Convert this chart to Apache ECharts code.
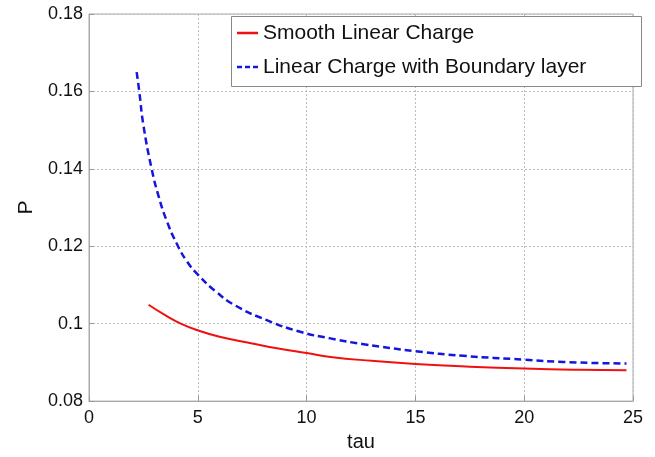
<!DOCTYPE html>
<html>
<head>
<meta charset="utf-8">
<script src="https://cdn.jsdelivr.net/npm/echarts@6/dist/echarts.min.js"></script>
<style>html,body{margin:0;padding:0;background:#fff;}#c{width:655px;height:457px;}</style>
</head>
<body>
<div id="c"></div>
<script>
var smoothTau = [2.74, 3.5, 4.19, 5, 6, 7.5, 8.7, 10, 11.1, 13, 15, 17.5, 20, 22.5, 24.7];
var smoothP   = [0.1049, 0.1022, 0.1001, 0.0983, 0.0966, 0.0949, 0.0936, 0.0924, 0.0914, 0.0904, 0.0896, 0.0889, 0.0884, 0.0881, 0.0880];
var boundaryTau = [2.19, 2.31, 2.5, 2.88, 3.2, 3.57, 4.03, 4.5, 5, 5.87, 6.72, 8.17, 9.71, 11.09, 12.62, 15, 17.2, 20, 21.8, 24.7];
var boundaryP   = [0.1650, 0.1600, 0.1513, 0.1400, 0.1329, 0.1266, 0.1207, 0.1161, 0.1127, 0.1081, 0.1047, 0.1009, 0.0979, 0.0962, 0.0947, 0.0929, 0.0917, 0.0907, 0.0901, 0.0897];
var xTicks = [0, 5, 10, 15, 20, 25];
var yTicks = [0.08, 0.1, 0.12, 0.14, 0.16, 0.18];
var seriesNames = ['Smooth Linear Charge', 'Linear Charge with Boundary layer'];

function pairs(xs, ys) { return xs.map(function (x, i) { return [x, ys[i]]; }); }

var font = '"Liberation Sans", Arial, Helvetica, sans-serif';
var chart = echarts.init(document.getElementById('c'), null, {renderer: 'canvas'});
chart.setOption({
  animation: false,
  backgroundColor: '#fff',
  grid: {left: 89, right: 22, top: 14, bottom: 51, show: true, borderColor: '#aaa', borderWidth: 1},
  graphic: [{
    type: 'rect', left: 231, top: 16, z: 100,
    shape: {width: 410, height: 70},
    style: {fill: '#fff', stroke: '#888', lineWidth: 1}
  }],
  legend: {
    orient: 'vertical', left: 231, top: 16, z: 101,
    padding: [6, 6, 8, 6], itemGap: 12, itemWidth: 21, itemHeight: 2.5,
    data: [
      {name: seriesNames[0], icon: 'path://M0,0h21v2.5h-21z'},
      {name: seriesNames[1], icon: 'path://M0,0h5v2.5h-5z M8,0h5v2.5h-5z M16,0h5v2.5h-5z'}
    ],
    textStyle: {fontFamily: font, fontSize: 21, color: '#111', lineHeight: 22}
  },
  xAxis: {
    type: 'value', min: xTicks[0], max: xTicks[xTicks.length - 1], interval: 5,
    name: 'tau', nameLocation: 'middle', nameGap: 28,
    nameTextStyle: {fontFamily: font, fontSize: 20, color: '#111'},
    axisLine: {lineStyle: {color: '#aaa'}},
    axisTick: {inside: true, length: 5, lineStyle: {color: '#999'}},
    axisLabel: {fontFamily: font, fontSize: 18, color: '#111', margin: 8},
    splitLine: {show: true, lineStyle: {color: '#bbb', type: [2, 2]}}
  },
  yAxis: {
    type: 'value', min: yTicks[0], max: yTicks[yTicks.length - 1], interval: 0.02,
    name: 'P', nameLocation: 'middle', nameGap: 52,
    nameTextStyle: {fontFamily: font, fontSize: 21, color: '#111'},
    axisLine: {show: true, lineStyle: {color: '#aaa'}},
    axisTick: {show: true, inside: true, length: 5, lineStyle: {color: '#999'}},
    axisLabel: {fontFamily: font, fontSize: 18, color: '#111', margin: 6,
      formatter: function (v) { return String(Math.round(v * 100) / 100); }},
    splitLine: {show: true, lineStyle: {color: '#bbb', type: [2, 2]}}
  },
  series: [{
    name: seriesNames[0], type: 'line', smooth: 0.5, symbol: 'none',
    data: pairs(smoothTau, smoothP),
    itemStyle: {color: '#f01010'},
    lineStyle: {color: '#f01010', width: 2}
  }, {
    name: seriesNames[1], type: 'line', smooth: 0.5, symbol: 'none',
    data: pairs(boundaryTau, boundaryP),
    itemStyle: {color: '#1515e0'},
    lineStyle: {color: '#1515e0', width: 2.5, type: [7, 4]}
  }]
});
</script>
</body>
</html>
